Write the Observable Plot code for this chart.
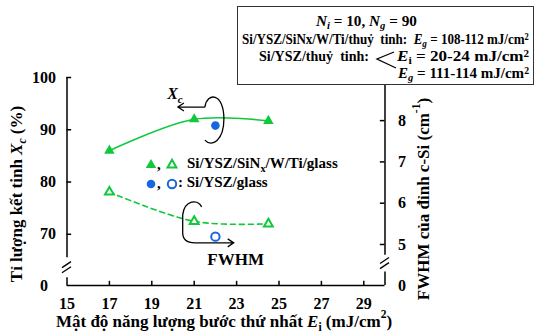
<!DOCTYPE html>
<html><head><meta charset="utf-8">
<script src="https://cdn.jsdelivr.net/npm/d3@7"></script>
<script src="https://cdn.jsdelivr.net/npm/@observablehq/plot@0.6"></script>
<style>
body{margin:0;background:#fff;}
#wrap{position:relative;width:535px;height:336px;font-family:"Liberation Serif","Times New Roman",serif;font-weight:bold;color:#000;}
#box{position:absolute;left:237px;top:6px;width:297px;height:79px;border:1.5px solid #333;background:#fff;box-sizing:border-box;}
.t{position:absolute;white-space:nowrap;font-size:15px;line-height:16px;transform-origin:0 50%;}
.t sub{font-size:0.7em;vertical-align:-0.25em;line-height:0;}
.t sup{font-size:0.65em;vertical-align:0.45em;line-height:0;}
</style></head><body><div id="wrap"></div>
<script>
// ---- data ----
const energiesMulti = [17, 21, 24.5];
const xcMulti = [86, 92, 91.7];
const fwhmMulti = [6.27, 5.56, 5.5];
const energiesSingle = [22];
const xcSingle = [90.8];
const fwhmSingle = [5.19];
const xTicks = [15, 17, 19, 21, 23, 25, 27, 29];
const xcTicks = [70, 80, 90, 100];
const fwhmTicks = [5, 6, 7, 8];
const breakTickLabel = ["0"];
const legendLabels = ["Si/YSZ/SiN", "x", "/W/Ti/glass", "Si/YSZ/glass"];

// ---- scale setup ----
const Y0 = 60.2;             // value at the (broken) baseline
const fwhmToXc = f => 68.05 + 7.9 * (f - 5);  // right axis mapped onto left scale
const green = "#10c83c", blue = "#1766e0";

const multi = energiesMulti.map((e, i) => ({e, xc: xcMulti[i], fw: fwhmMulti[i]}));
const single = energiesSingle.map((e, i) => ({e, xc: xcSingle[i], fw: fwhmSingle[i]}));

const leftSegs = [{a: Y0, b: 61.7}, {a: 65.5, b: 100}];
const rightSegs = [{a: Y0, b: 62.8}, {a: 66.0, b: 100}];

const plot = Plot.plot({
  width: 535, height: 336,
  marginLeft: 66.5, marginRight: 150.5, marginTop: 77, marginBottom: 51,
  style: {fontFamily: "'Liberation Serif','Times New Roman',serif", fontWeight: "bold", fontSize: "16px", color: "#000", background: "#fff", overflow: "visible"},
  x: {domain: [15, 30], ticks: xTicks, tickSize: 0, tickPadding: 12, label: null},
  y: {domain: [Y0, 100], ticks: xcTicks, tickSize: 0, tickPadding: 11, label: null},
  marks: [
    Plot.ruleY([Y0], {x1: 15, x2: 30, stroke: "#000", strokeWidth: 1.5}),
    Plot.ruleX(leftSegs, {x: 15, y1: "a", y2: "b", stroke: "#000", strokeWidth: 1.5}),
    Plot.ruleX(rightSegs, {x: 30, y1: "a", y2: "b", stroke: "#000", strokeWidth: 1.5}),
    Plot.ruleY(xcTicks, {x1: 15, x2: 15.22, stroke: "#000", strokeWidth: 1.5}),
    Plot.ruleY(fwhmTicks, {y: fwhmToXc, x1: 29.78, x2: 30, stroke: "#000", strokeWidth: 1.5}),
    Plot.ruleX(xTicks.filter(t => t > 15), {y1: Y0, y2: Y0 + 0.8, stroke: "#000", strokeWidth: 1.5}),
    Plot.text(breakTickLabel, {x: 15, y: Y0, dx: -23, fontSize: 16}),
    Plot.text(fwhmTicks, {x: 30, y: fwhmToXc, dx: 13, textAnchor: "start", fontSize: 16}),
    Plot.text(breakTickLabel, {x: 30, y: Y0, dx: 13, textAnchor: "start", fontSize: 16}),
    Plot.line(multi, {x: "e", y: "xc", curve: "catmull-rom", stroke: green, strokeWidth: 1.6}),
    Plot.line(multi, {x: "e", y: d => fwhmToXc(d.fw), curve: "catmull-rom", stroke: green, strokeWidth: 1.6, strokeDasharray: "5,4"}),
    Plot.dot(multi, {x: "e", y: "xc", symbol: "triangle", fill: green, r: 3.9}),
    Plot.dot(multi, {x: "e", y: d => fwhmToXc(d.fw), symbol: "triangle", fill: "white", stroke: green, strokeWidth: 2, r: 3.3}),
    Plot.dot(single, {x: "e", y: "xc", fill: blue, r: 4.3}),
    Plot.dot(single, {x: "e", y: d => fwhmToXc(d.fw), fill: "white", stroke: blue, strokeWidth: 2, r: 4.2})
  ]
});

document.getElementById("wrap").appendChild(plot);

// ---- annotations using the plot's own scales ----
const sx = plot.scale("x"), sy = plot.scale("y");
const X = d3.scaleLinear(sx.domain, sx.range);
const Y = d3.scaleLinear(sy.domain, sy.range);
const svg = d3.select(plot);
const font = "'Liberation Serif','Times New Roman',serif";

function rich(g, x, y, parts, opts = {}) {
  const t = g.append("text").attr("x", x).attr("y", y)
    .attr("font-family", font).attr("font-weight", "bold")
    .attr("font-size", opts.size || 16).attr("fill", "#000")
    .attr("text-anchor", opts.anchor || "middle")
    .attr("dominant-baseline", "middle");
  if (opts.rotate) t.attr("transform", `rotate(${opts.rotate},${x},${y})`);
  let shift = 0;
  parts.forEach(p => {
    const s = t.append("tspan").text(p.t);
    const target = p.sub ? 0.3 : p.sup ? -0.45 : 0;
    const size = opts.size || 16;
    if (target !== shift) { s.attr("dy", ((target - shift) * size).toFixed(2)); shift = target; }
    if (p.sub || p.sup) s.attr("font-size", size * 0.68);
    if (p.i) s.attr("font-style", "italic");
  });
  return t;
}

const ann = svg.append("g");
// axis titles
rich(ann, 18, 194, [{t: "Tỉ lượng kết tinh "}, {t: "X", i: true}, {t: "c", i: true, sub: true}, {t: " (%)"}], {size: 17, rotate: -90});
rich(ann, 425, 199, [{t: "FWHM của đỉnh c-Si (cm"}, {t: "-1", sup: true}, {t: ")"}], {size: 17, rotate: -90});
rich(ann, 224, 323, [{t: "Mật độ năng lượng bước thứ nhất "}, {t: "E", i: true}, {t: "i", sub: true}, {t: " (mJ/cm"}, {t: "2", sup: true}, {t: ")"}], {size: 17});

// axis break marks
function brk(x, y) {
  [-2.6, 2.6].forEach(o => ann.append("line")
    .attr("x1", x - 4.5).attr("y1", y + 3 + o).attr("x2", x + 4.5).attr("y2", y - 3 + o)
    .attr("stroke", "#000").attr("stroke-width", 1.3));
}
brk(X(15), Y((leftSegs[0].b + leftSegs[1].a) / 2));
brk(X(30), Y((rightSegs[0].b + rightSegs[1].a) / 2));

// Xc loop + arrow around the Si/YSZ/glass Xc point
const p1 = [X(single[0].e), Y(single[0].xc)];
ann.append("path").attr("fill", "none").attr("stroke", "#000").attr("stroke-width", 1.3)
  .attr("d", `M${p1[0]-10},${p1[1]-18} C${p1[0]-8},${p1[1]-33} ${p1[0]+9},${p1[1]-33} ${p1[0]+9},${p1[1]-6} C${p1[0]+9},${p1[1]+15} ${p1[0]-3},${p1[1]+23} ${p1[0]-10},${p1[1]+15}`);
ann.append("path").attr("fill", "none").attr("stroke", "#000").attr("stroke-width", 1.3)
  .attr("d", `M${p1[0]-10},${p1[1]-18} H${p1[0]-37} M${p1[0]-31},${p1[1]-22} L${p1[0]-37},${p1[1]-18} L${p1[0]-31},${p1[1]-14}`);
rich(ann, p1[0] - 40, p1[1] - 30, [{t: "X", i: true}, {t: "c", i: true, sub: true}], {size: 16});

// FWHM loop + arrow around the Si/YSZ/SiNx/W/Ti FWHM point at 21
const p2 = [X(multi[1].e), Y(fwhmToXc(multi[1].fw))];
ann.append("path").attr("fill", "none").attr("stroke", "#000").attr("stroke-width", 1.3)
  .attr("d", `M${p2[0]+8},${p2[1]-14} C${p2[0]+4},${p2[1]-22} ${p2[0]-9},${p2[1]-21} ${p2[0]-11},${p2[1]-6} L${p2[0]-11},${p2[1]+12} C${p2[0]-11},${p2[1]+19} ${p2[0]-6},${p2[1]+22} ${p2[0]+1},${p2[1]+22} H${p2[0]+40} M${p2[0]+34},${p2[1]+18} L${p2[0]+40},${p2[1]+22} L${p2[0]+34},${p2[1]+26}`);
rich(ann, p2[0] + 42, p2[1] + 40, [{t: "FWHM"}], {size: 17});

// legend
const lg = svg.append("g");
const sym = d3.symbol().type(d3.symbolTriangle).size(3.9 * 3.9 * Math.PI)();
const symO = d3.symbol().type(d3.symbolTriangle).size(3.3 * 3.3 * Math.PI)();
const r1 = 165, r2 = 184;
lg.append("path").attr("d", sym).attr("transform", `translate(151,${r1})`).attr("fill", green);
lg.append("path").attr("d", symO).attr("transform", `translate(172,${r1})`).attr("fill", "white").attr("stroke", green).attr("stroke-width", 2);
lg.append("circle").attr("cx", 151).attr("cy", r2).attr("r", 4.3).attr("fill", blue);
lg.append("circle").attr("cx", 172).attr("cy", r2).attr("r", 4.2).attr("fill", "white").attr("stroke", blue).attr("stroke-width", 2);
rich(lg, 157, r1 + 1, [{t: ","}], {size: 15, anchor: "start"});
rich(lg, 157, r2 + 1, [{t: ","}], {size: 15, anchor: "start"});
rich(lg, 187, r1, [{t: legendLabels[0]}, {t: legendLabels[1], sub: true}, {t: legendLabels[2]}], {size: 15, anchor: "start"});
rich(lg, 178, r2, [{t: ": " + legendLabels[3]}], {size: 15, anchor: "start"});

// ---- conditions box ----
const box = document.createElement("div");
box.id = "box";
box.innerHTML = `
<div class="t" data-w="101" style="left:78px;top:6px"><i>N</i><sub><i>i</i></sub> = 10, <i>N</i><sub><i>g</i></sub> = 90</div>
<div class="t" data-w="287" style="left:4px;top:24px">Si/YSZ/SiNx/W/Ti/thuỷ&nbsp; tinh:&nbsp; <i>E</i><sub><i>g</i></sub> = 108-112 mJ/cm<sup>2</sup></div>
<div class="t" data-w="110" style="left:21px;top:41px">Si/YSZ/thuỷ&nbsp; tinh:</div>
<div class="t" data-w="132" style="left:159px;top:41px"><i>E</i><sub>i</sub> = 20-24 mJ/cm<sup>2</sup></div>
<div class="t" data-w="131" style="left:160px;top:58px"><i>E</i><sub><i>g</i></sub> = 111-114 mJ/cm<sup>2</sup></div>
<svg style="position:absolute;left:0;top:0" width="297" height="79"><path d="M156,45 L139,52 L158,61" fill="none" stroke="#000" stroke-width="1.3"/></svg>`;
document.getElementById("wrap").appendChild(box);
box.querySelectorAll(".t[data-w]").forEach(el => {
  const w = el.getBoundingClientRect().width;
  const target = +el.dataset.w;
  if (w > 0) el.style.transform = `scaleX(${(target / w).toFixed(3)})`;
});
</script>
</body></html>
